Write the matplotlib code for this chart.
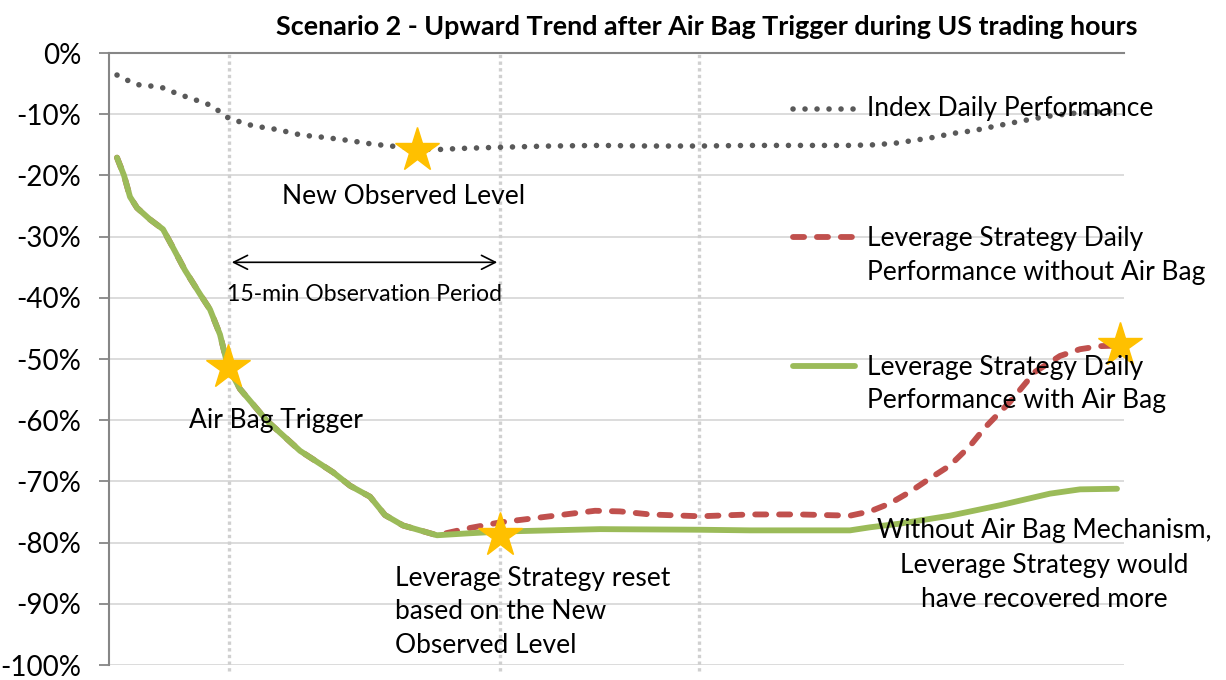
import matplotlib
matplotlib.use("Agg")
import matplotlib.pyplot as plt

plt.rcParams['font.family'] = ['Lato', 'DejaVu Sans']

# time steps (arbitrary intraday units) and daily performance in %
index_x = [0, 1.1, 2.2, 3.4, 4.6, 5.8, 7.0, 8.1, 9.3, 10.3, 11.2, 13.6, 16.0, 18.4, 20.8,
           23.2, 25.6, 28.0, 30.3, 31.8, 34.3, 38.3, 43.3, 48.3, 53.3, 58.3, 63.3, 68.3,
           73.3, 75.8, 78.0, 79.6, 80.8, 82.0, 83.3, 85.6, 88.0, 90.5, 92.8, 95.3, 97.8, 100]
index_y = [-3.6, -4.5, -5.2, -5.4, -5.7, -6.5, -7.2, -7.8, -8.5, -9.6, -10.7, -11.9, -12.5,
           -13.4, -13.8, -14.3, -14.9, -15.3, -15.6, -15.8, -15.6, -15.4, -15.2, -15.1,
           -15.2, -15.2, -15.1, -15.1, -15.1, -15.0, -14.7, -14.3, -14.0, -13.7, -13.2,
           -12.7, -11.9, -11.1, -10.4, -9.9, -9.6, -9.4]

airbag_x = [0, 0.7, 1.3, 2.0, 3.3, 4.6, 5.5, 6.8, 8.3, 9.3, 10.3, 11.1, 12.3, 15.0, 18.3,
            21.6, 23.3, 25.3, 26.8, 28.6, 32.0, 35.0, 38.3, 48.3, 58.3, 63.3, 73.3, 75.3,
            78.3, 83.3, 88.3, 93.3, 96.3, 100]
airbag_y = [-17.1, -20.0, -23.5, -25.3, -27.2, -28.8, -31.5, -35.5, -39.4, -41.9, -46.0,
            -51.3, -54.9, -60.1, -65.0, -68.5, -70.7, -72.5, -75.5, -77.2, -78.8, -78.5,
            -78.2, -77.8, -77.9, -78.0, -78.0, -77.5, -76.9, -75.6, -73.9, -72.0, -71.3, -71.2]

no_airbag_x = [0, 0.7, 1.3, 2.0, 3.3, 4.6, 5.5, 6.8, 8.3, 9.3, 10.3, 11.1, 12.3, 15.0, 18.3,
               21.6, 23.3, 25.3, 26.8, 28.6, 32.0, 35.0, 38.3, 43.3, 47.8, 50.3, 53.3, 58.3,
               63.3, 68.3, 73.3, 75.3, 77.3, 79.3, 81.3, 83.3, 85.3, 86.8, 89.3, 91.8, 94.3,
               96.3, 98.3, 100]
no_airbag_y = [-17.1, -20.0, -23.5, -25.3, -27.2, -28.8, -31.5, -35.5, -39.4, -41.9, -46.0,
               -51.3, -54.9, -60.1, -65.0, -68.5, -70.7, -72.5, -75.5, -77.2, -78.8, -77.7,
               -76.7, -75.7, -74.8, -74.9, -75.4, -75.7, -75.4, -75.4, -75.6, -74.9, -73.6,
               -71.7, -69.5, -67.4, -64.2, -61.2, -57.0, -52.1, -49.5, -48.4, -47.9, -47.8]

star_x = [11.1, 30.0, 38.3, 100.3]
star_y = [-51.3, -15.8, -78.8, -47.7]
period_x = [11.2, 38.3, 58.2]
yticks = list(range(-100, 1, 10))

RED = '#C0504D'
GREEN = '#9BBB59'
GRAY = '#595959'
GOLD = '#FFC000'

DOTS = dict(color=GRAY, lw=4.0, ls=(0, (0.01, 2.15)), dash_capstyle='round')
DASH = dict(color=RED, lw=4.2, ls=(0, (1.9, 2.2)), dash_capstyle='round')
SOLID = dict(color=GREEN, lw=4.2, solid_capstyle='round')

fig = plt.figure(figsize=(12.26, 6.8), dpi=100)
ax = fig.add_axes([109 / 1226, 15 / 680, 1015 / 1226, 612 / 680])
ax.set_xlim(-0.8, 100.7)
ax.set_ylim(-100, 0)

# grid / axes
ax.set_yticks(yticks)
ax.set_yticklabels([f'{v}%' for v in yticks], fontsize=20)
ax.set_xticks([])
ax.grid(axis='y', color='#D9D9D9', lw=1.3)
for s in ['right', 'bottom']:
    ax.spines[s].set_visible(False)
for s in ['left', 'top']:
    ax.spines[s].set_color('#868686')
    ax.spines[s].set_linewidth(1.5)
ax.tick_params(axis='y', length=7, width=1.3, color='#868686', pad=13)
ax.set_axisbelow(True)

for px in period_x:
    ax.axvline(px, ymin=-0.01, ymax=1, color='#D0D0D0', lw=2.4, ls=(0, (1, 1)),
               clip_on=False, zorder=1)

# series
ax.plot(index_x, index_y, zorder=3, **DOTS)
ax.plot(no_airbag_x, no_airbag_y, zorder=3, **DASH)
ax.plot(airbag_x, airbag_y, zorder=4, **SOLID)
ax.plot(star_x, star_y, '*', color=GOLD, ms=33, mec=GOLD, zorder=5, clip_on=False)

# annotations
txt = dict(fontsize=19, color='black', zorder=6)
ax.text(28.7, -23.4, 'New Observed Level', ha='center', va='center', **txt)
ax.text(15.9, -60.1, 'Air Bag Trigger', ha='center', va='center', **txt)
ax.text(27.8, -91.3, 'Leverage Strategy reset\nbased on the New\nObserved Level',
        ha='left', va='center', linespacing=1.42, **txt)
ax.text(92.7, -83.7, 'Without Air Bag Mechanism,\nLeverage Strategy would\nhave recovered more',
        ha='center', va='center', linespacing=1.48, **txt)
ax.annotate('', xy=(period_x[0], -34.2), xytext=(period_x[1], -34.2),
            arrowprops=dict(arrowstyle='<->', color='black', lw=1.2,
                            mutation_scale=25))
ax.text((period_x[0] + period_x[1]) / 2, -39.5, '15-min Observation Period',
        ha='center', va='center', fontsize=16.6, zorder=6)

# legend drawn by hand (handles line up with the first label line)
leg = [(DOTS, 'Index Daily Performance', -9.1, -9.1),
       (DASH, 'Leverage Strategy Daily\nPerformance without Air Bag', -30.1, -33.1),
       (SOLID, 'Leverage Strategy Daily\nPerformance with Air Bag', -51.1, -54.1)]
for style, label, yy, ty in leg:
    ax.plot([67.6, 73.8], [yy, yy], zorder=5, **style)
    ax.text(75.0, ty, label, ha='left', va='center', linespacing=1.42, **txt)

fig.text(707 / 1226, 1 - 27 / 680,
         'Scenario 2 - Upward Trend after Air Bag Trigger during US trading hours',
         ha='center', va='center', fontsize=19.4, fontweight='bold')

fig.savefig('out.png', dpi=100)
